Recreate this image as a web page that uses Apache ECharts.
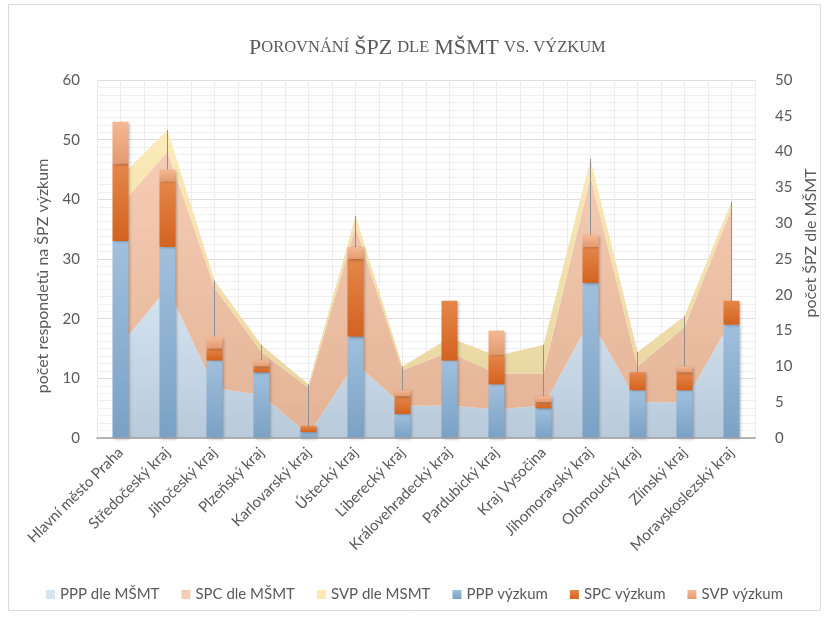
<!DOCTYPE html>
<html>
<head>
<meta charset="utf-8">
<script src="https://cdn.jsdelivr.net/npm/echarts@6/dist/echarts.min.js"></script>
<style>
  html, body { margin: 0; padding: 0; background: #fff; }
  #chart-container { width: 829px; height: 617px; }
</style>
</head>
<body>
<div id="chart-container"></div>
<script>
// regions (x axis)
const kraje = [
  "Hlavní město Praha", "Středočeský kraj", "Jihočeský kraj", "Plzeňský kraj",
  "Karlovarský kraj", "Ústecký kraj", "Liberecký kraj", "Královehradecký kraj",
  "Pardubický kraj", "Kraj Vysočina", "Jihomoravský kraj", "Olomoucký kraj",
  "Zlínský kraj", "Moravskoslezský kraj"
];

// počet ŠPZ dle MŠMT (right axis, stacked areas)
const pppMsmt = [13, 21, 7, 6, 0.5, 10.5, 4.5, 4.5, 4, 4.5, 16.5, 5, 5, 16.5];
const spcMsmt = [19.5, 19, 14, 6, 6.5, 19, 5, 7.5, 5, 4.5, 20, 5, 10.5, 15.5];
const svpMsmt = [4, 3, 1, 1, 0.5, 1.5, 0.5, 2, 2.5, 4, 2.5, 2, 1.5, 1];

// počet respondentů výzkum (left axis, stacked bars)
const pppVyzkum = [33, 32, 13, 11, 1, 17, 4, 13, 9, 5, 26, 8, 8, 19];
const spcVyzkum = [13, 11, 2, 1, 1, 13, 3, 10, 5, 1, 6, 3, 3, 4];
const svpVyzkum = [7, 2, 2, 1, 0, 2, 1, 0, 4, 1, 2, 0, 1, 0];

const legendNames = ["PPP dle MŠMT", "SPC dle MŠMT", "SVP dle MSMT", "PPP výzkum", "SPC výzkum", "SVP výzkum"];

const chart = echarts.init(document.getElementById("chart-container"));

const grad = (top, bottom) =>
  new echarts.graphic.LinearGradient(0, 0, 0, 1, [
    { offset: 0, color: top },
    { offset: 1, color: bottom },
  ]);

// totals for drop lines
const totals = pppMsmt.map((v, i) => [i, v + spcMsmt[i] + svpMsmt[i]]);

const labelColor = "#595959";
const font = "Lato, 'Open Sans', sans-serif";

const areaSeries = (name, data, top, bottom) => ({
  name,
  type: "line",
  stack: "msmt",
  yAxisIndex: 1,
  z: 1,
  data,
  symbol: "none",
  lineStyle: { width: 0 },
  areaStyle: { color: grad(top, bottom), opacity: 1 },
  color: top,
  emphasis: { disabled: true },
});

const barSeries = (name, data, top, bottom) => ({
  name,
  type: "bar",
  stack: "vyzkum",
  yAxisIndex: 0,
  z: 3,
  barWidth: 16,
  data,
  color: bottom,
  itemStyle: {
    color: grad(top, bottom),
    shadowBlur: 3,
    shadowColor: "rgba(0,0,0,0.3)",
    shadowOffsetX: 1,
    shadowOffsetY: 1,
  },
});

const option = {
  animation: false,
  title: {
    text: "{a|P}{b|OROVNÁNÍ} {a|ŠPZ} {b|DLE} {a|MŠMT} {b|VS. VÝZKUM}",
    left: 244,
    top: 32,
    textStyle: {
      rich: {
        a: { fontFamily: "'Liberation Serif', serif", fontSize: 22, fontWeight: "normal", color: labelColor },
        b: { fontFamily: "'Liberation Serif', serif", fontSize: 16.5, fontWeight: "normal", color: labelColor },
      },
    },
  },
  graphic: [
    {
      type: "rect",
      shape: { x: 8.5, y: 4.5, width: 812, height: 606 },
      style: { fill: "none", stroke: "#d9d9d9", lineWidth: 1 },
      silent: true,
    },
  ],
  legend: {
    data: legendNames,
    bottom: 10,
    left: "center",
    icon: "rect",
    itemWidth: 9,
    itemHeight: 9,
    itemGap: 22,
    textStyle: { fontFamily: font, fontSize: 15, color: labelColor },
  },
  grid: { left: 97, right: 74, top: 80, bottom: 179 },
  xAxis: [
    {
      type: "category",
      data: kraje,
      boundaryGap: true,
      axisLine: { lineStyle: { color: "#a0a0a0", width: 1.5 } },
      axisTick: { show: false },
      axisLabel: {
        rotate: 45,
        interval: 0,
        margin: 12,
        fontFamily: font,
        fontSize: 15,
        color: labelColor,
      },
      splitLine: { show: false },
      z: 5,
    },
    {
      // helper axis only for the vertical grid lines (every half category)
      type: "value",
      min: 0,
      max: 28,
      interval: 1,
      position: "bottom",
      axisLine: { show: false },
      axisTick: { show: false },
      axisLabel: { show: false },
      splitLine: { show: true, lineStyle: { color: "#ececec" } },
    },
  ],
  yAxis: [
    {
      type: "value",
      min: 0,
      max: 60,
      interval: 10,
      name: "počet respondetů na ŠPZ výzkum",
      nameLocation: "middle",
      nameRotate: 90,
      nameGap: 46,
      nameTextStyle: { fontFamily: font, fontSize: 16, color: labelColor, padding: [0, 34, 0, 0] },
      axisLine: { show: false },
      axisTick: { show: false },
      axisLabel: { margin: 17, fontFamily: font, fontSize: 15, color: labelColor },
      splitLine: { lineStyle: { color: "#dedede" } },
      minorTick: { show: false, splitNumber: 8 },
      minorSplitLine: { show: true, lineStyle: { color: "#f0f0f0" } },
    },
    {
      type: "value",
      min: 0,
      max: 50,
      interval: 5,
      position: "right",
      name: "počet ŠPZ dle MŠMT",
      nameLocation: "middle",
      nameRotate: 90,
      nameGap: 48,
      nameTextStyle: { fontFamily: font, fontSize: 16, color: labelColor, padding: [0, 0, 0, 32] },
      axisLine: { show: false },
      axisTick: { show: false },
      axisLabel: { margin: 20, fontFamily: font, fontSize: 15, color: labelColor },
      splitLine: { show: false },
    },
  ],
  series: [
    areaSeries("PPP dle MŠMT", pppMsmt, "#d6e4f1", "#b8cadb"),
    areaSeries("SPC dle MŠMT", spcMsmt, "#f5cdb4", "#e3b396"),
    areaSeries("SVP dle MSMT", svpMsmt, "#fdeab9", "#e9d7a3"),
    {
      // drop lines from the MŠMT total down to the axis
      name: "drop",
      type: "custom",
      yAxisIndex: 1,
      z: 2,
      data: totals,
      silent: true,
      renderItem: (params, api) => {
        const top = api.coord([api.value(0), api.value(1)]);
        const bottom = api.coord([api.value(0), 0]);
        return {
          type: "line",
          shape: { x1: top[0], y1: top[1], x2: bottom[0], y2: bottom[1] },
          style: { stroke: "#8f8f8f", lineWidth: 1 },
        };
      },
    },
    barSeries("PPP výzkum", pppVyzkum, "#a0c0dd", "#7aa1c4"),
    barSeries("SPC výzkum", spcVyzkum, "#e58749", "#d3621f"),
    barSeries("SVP výzkum", svpVyzkum, "#f3b995", "#e49a70"),
  ],
};

chart.setOption(option);
</script>
</body>
</html>
